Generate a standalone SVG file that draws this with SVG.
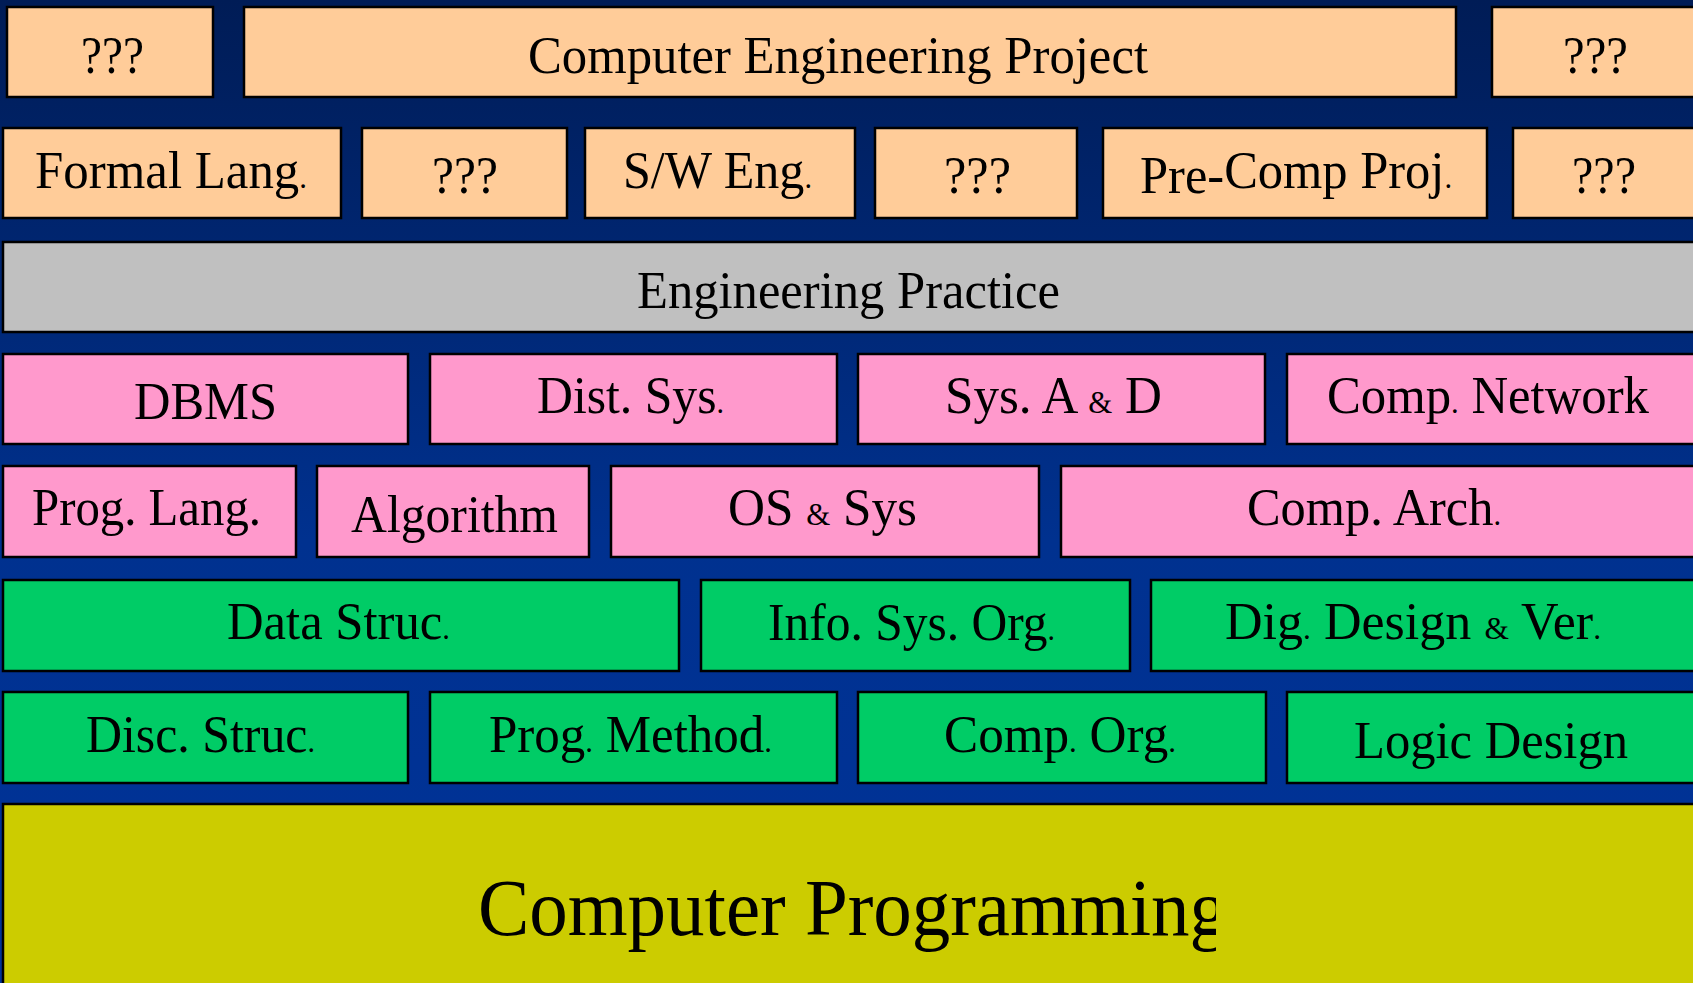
<svg xmlns="http://www.w3.org/2000/svg" width="1693" height="983" viewBox="0 0 1693 983">
<defs>
<linearGradient id="bg" x1="0" y1="0" x2="0" y2="1">
<stop offset="0" stop-color="#001c56"/>
<stop offset="0.55" stop-color="#00318f"/>
<stop offset="1" stop-color="#003399"/>
</linearGradient>
<clipPath id="cpClip" clipPathUnits="userSpaceOnUse"><rect x="0" y="804" width="1216" height="179"/></clipPath>
</defs>
<style>
.b{stroke:#000;stroke-width:2.5}
.peach{fill:#ffcc99}
.gray{fill:#c0c0c0}
.pink{fill:#ff99cc}
.green{fill:#00cc66}
.yellow{fill:#cccc00}
text{font-family:"Liberation Serif","Times New Roman",serif;font-size:53px;fill:#000}
.sm{font-size:32px}
.big{font-size:80px}
</style>
<rect x="0" y="0" width="1693" height="983" fill="url(#bg)"/>
<g id="connectors"/>
<g id="n-q1"><rect class="b peach" x="7" y="7" width="206" height="90"/><text x="81" y="73" textLength="63" lengthAdjust="spacingAndGlyphs">???</text></g>
<g id="n-cep"><rect class="b peach" x="244" y="7" width="1212" height="90"/><text x="528" y="73" textLength="620" lengthAdjust="spacingAndGlyphs">Computer Engineering Project</text></g>
<g id="n-q2"><rect class="b peach" x="1492" y="7" width="230" height="90"/><text x="1563" y="73" textLength="65" lengthAdjust="spacingAndGlyphs">???</text></g>

<g id="n-formal"><rect class="b peach" x="3" y="128" width="338" height="90"/><text x="35" y="188" textLength="272" lengthAdjust="spacingAndGlyphs">Formal Lang<tspan class="sm">.</tspan></text></g>
<g id="n-q3"><rect class="b peach" x="362" y="128" width="205" height="90"/><text x="432" y="193" textLength="66" lengthAdjust="spacingAndGlyphs">???</text></g>
<g id="n-swe"><rect class="b peach" x="585" y="128" width="270" height="90"/><text x="623" y="188" textLength="189" lengthAdjust="spacingAndGlyphs">S/W Eng<tspan class="sm">.</tspan></text></g>
<g id="n-q4"><rect class="b peach" x="875" y="128" width="202" height="90"/><text x="944" y="193" textLength="67" lengthAdjust="spacingAndGlyphs">???</text></g>
<g id="n-precomp"><rect class="b peach" x="1103" y="128" width="384" height="90"/><text x="1140" y="193" textLength="312" lengthAdjust="spacingAndGlyphs">Pre-<tspan dy="-5">Comp Proj</tspan><tspan class="sm">.</tspan></text></g>
<g id="n-q5"><rect class="b peach" x="1513" y="128" width="200" height="90"/><text x="1572" y="193" textLength="64" lengthAdjust="spacingAndGlyphs">???</text></g>

<g id="n-engprac"><rect class="b gray" x="3" y="242" width="1700" height="90"/><text x="637" y="308" textLength="423" lengthAdjust="spacingAndGlyphs">Engineering Practice</text></g>

<g id="n-dbms"><rect class="b pink" x="3" y="354" width="405" height="90"/><text x="134" y="419" textLength="143" lengthAdjust="spacingAndGlyphs">DBMS</text></g>
<g id="n-dist"><rect class="b pink" x="430" y="354" width="407" height="90"/><text x="537" y="413" textLength="187" lengthAdjust="spacingAndGlyphs">Dist. Sys<tspan class="sm">.</tspan></text></g>
<g id="n-sysad"><rect class="b pink" x="858" y="354" width="407" height="90"/><text x="945" y="413" textLength="217" lengthAdjust="spacingAndGlyphs">Sys. A <tspan class="sm">&amp;</tspan> D</text></g>
<g id="n-net"><rect class="b pink" x="1287" y="354" width="420" height="90"/><text x="1327" y="413" textLength="322" lengthAdjust="spacingAndGlyphs">Comp<tspan class="sm">.</tspan> Network</text></g>

<g id="n-proglang"><rect class="b pink" x="3" y="466" width="293" height="91"/><text x="32" y="525" textLength="229" lengthAdjust="spacingAndGlyphs">Prog. Lang.</text></g>
<g id="n-algo"><rect class="b pink" x="317" y="466" width="272" height="91"/><text x="351" y="532" textLength="207" lengthAdjust="spacingAndGlyphs">Algorithm</text></g>
<g id="n-os"><rect class="b pink" x="611" y="466" width="428" height="91"/><text x="728" y="525" textLength="189" lengthAdjust="spacingAndGlyphs">OS <tspan class="sm">&amp;</tspan> Sys</text></g>
<g id="n-arch"><rect class="b pink" x="1061" y="466" width="640" height="91"/><text x="1247" y="525" textLength="254" lengthAdjust="spacingAndGlyphs">Comp. Arch<tspan class="sm">.</tspan></text></g>

<g id="n-ds"><rect class="b green" x="3" y="580" width="676" height="91"/><text x="227" y="639" textLength="223" lengthAdjust="spacingAndGlyphs">Data Struc<tspan class="sm">.</tspan></text></g>
<g id="n-iso"><rect class="b green" x="701" y="580" width="429" height="91"/><text x="768" y="640" textLength="287" lengthAdjust="spacingAndGlyphs">Info. Sys. Org<tspan class="sm">.</tspan></text></g>
<g id="n-dig"><rect class="b green" x="1151" y="580" width="560" height="91"/><text x="1225" y="639" textLength="376" lengthAdjust="spacingAndGlyphs">Dig<tspan class="sm">.</tspan> Design <tspan class="sm">&amp;</tspan> Ver<tspan class="sm">.</tspan></text></g>

<g id="n-disc"><rect class="b green" x="3" y="692" width="405" height="91"/><text x="86" y="752" textLength="229" lengthAdjust="spacingAndGlyphs">Disc. Struc<tspan class="sm">.</tspan></text></g>
<g id="n-pm"><rect class="b green" x="430" y="692" width="407" height="91"/><text x="489" y="752" textLength="283" lengthAdjust="spacingAndGlyphs">Prog<tspan class="sm">.</tspan> Method<tspan class="sm">.</tspan></text></g>
<g id="n-co"><rect class="b green" x="858" y="692" width="408" height="91"/><text x="944" y="752" textLength="232" lengthAdjust="spacingAndGlyphs">Comp<tspan class="sm">.</tspan> Org<tspan class="sm">.</tspan></text></g>
<g id="n-logic"><rect class="b green" x="1287" y="692" width="420" height="91"/><text x="1354" y="758" textLength="274" lengthAdjust="spacingAndGlyphs">Logic Design</text></g>

<g id="n-cp"><rect class="b yellow" x="3" y="804" width="1700" height="200"/><g clip-path="url(#cpClip)"><text class="big" x="478" y="935" textLength="750" lengthAdjust="spacingAndGlyphs">Computer Programming</text></g></g>
</svg>
